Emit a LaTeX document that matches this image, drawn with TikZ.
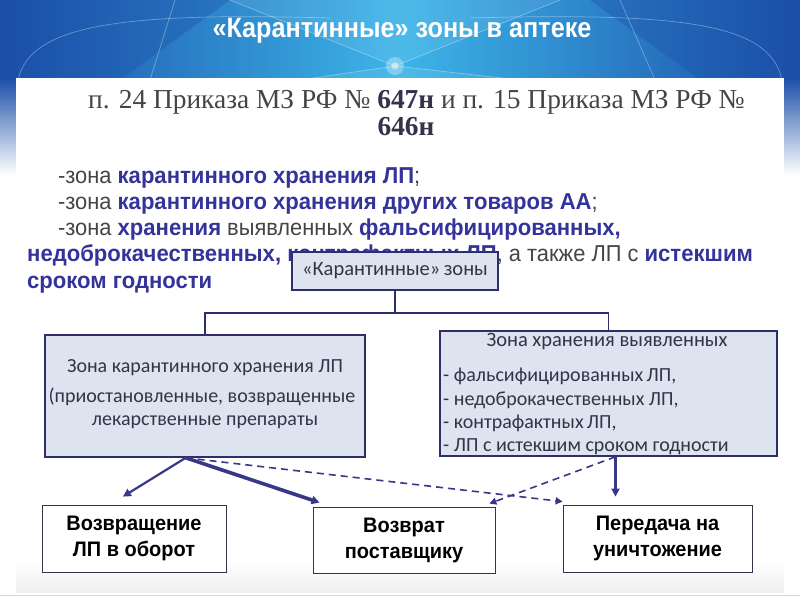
\documentclass[tikz,border=0pt]{standalone}
\usepackage{fontspec}
\setmainfont{Liberation Sans}
\newfontfamily\narrowfont[FakeStretch=0.9]{Liberation Sans}
\newfontfamily\bulreg[FakeStretch=0.95]{Liberation Sans}
\newfontfamily\bulbold[FakeStretch=0.96]{Liberation Sans}
\newfontfamily\endfont[FakeStretch=0.95]{Liberation Sans}
\newfontfamily\serifw{Liberation Serif}
\newfontfamily\calib{Carlito}
\usetikzlibrary{arrows.meta,calc}
\definecolor{navy}{HTML}{333399}
\definecolor{boxline}{HTML}{2E2E6A}
\definecolor{boxfill}{HTML}{DDE3EF}
\definecolor{gtext}{HTML}{454545}
\definecolor{darktext}{HTML}{33334A}
\definecolor{arrowc}{HTML}{38388A}
\definecolor{hdark}{HTML}{1B4FA8}
\definecolor{hlight}{HTML}{3DB5E8}
\tikzset{
  zonebox/.style={draw=boxline, line width=1.6pt, fill=boxfill, inner sep=0pt},
  endbox/.style={draw=darktext, line width=0.8pt, fill=white, inner sep=0pt, align=center,
                 font=\endfont\bfseries\fontsize{21}{26}\selectfont, text=black},
  boxtxt/.style={font=\calib\fontsize{20}{22}\selectfont, text=darktext, inner sep=0pt},
  bul/.style={anchor=base west, inner sep=0pt, font=\bulreg\fontsize{23}{27}\selectfont, text=gtext},
  conn/.style={draw=boxline, line width=1.6pt},
  arr/.style={draw=arrowc, line width=2.4pt, -{Triangle[length=8pt,width=8pt]}},
  darr/.style={draw=arrowc, line width=1.6pt, dash pattern=on 7pt off 5pt, -{Triangle[length=7pt,width=7pt]}},
  deco/.style={draw=white, line width=0.7pt, opacity=0.35},
  facet/.style={fill=white, opacity=0.08},
  dfacet/.style={fill=hdark, opacity=0.35}
}
\newcommand{\nb}[1]{{\bulbold\bfseries\color{navy}#1}}
\begin{document}
\begin{tikzpicture}[x=1pt,y=-1pt]
\useasboundingbox (0,0) rectangle (800,600);
% background
\fill[white] (0,0) rectangle (800,600);
\shade[left color=hdark, right color=hdark, middle color=hlight] (0,0) rectangle (800,80);
\fill[dfacet] (0,0) -- (230,0) -- (120,80) -- (0,80) -- cycle;
\fill[dfacet] (800,0) -- (590,0) -- (700,80) -- (800,80) -- cycle;
\fill[facet] (230,0) -- (395,66) -- (560,0) -- cycle;
\fill[facet] (300,80) -- (395,66) -- (520,80) -- cycle;
\shade[top color=hdark, bottom color=white] (0,78) rectangle (16,175);
\shade[top color=hdark, bottom color=white] (784,78) rectangle (800,175);
% header decoration
\draw[deco] (18,80) .. controls (30,25) and (120,12) .. (330,18);
\draw[deco] (782,80) .. controls (770,25) and (690,12) .. (470,18);
\draw[deco] (175,0) -- (150,80);
\draw[deco] (620,0) -- (655,80);
\draw[deco] (230,0) -- (395,66) -- (560,0);
\draw[deco] (300,80) -- (395,66) -- (520,80);
\fill[white, opacity=0.3] (395,66) circle (9pt);
\fill[white, opacity=0.5] (395,66) circle (3.5pt);
% panel
\fill[white] (16,78) rectangle (784,592);
\shade[top color=white, bottom color=black!6] (16,560) rectangle (784,592);
\draw[hlight!40, line width=1pt] (0,595) -- (800,595);

% title
\node[text=white, font=\narrowfont\bfseries\fontsize{28}{32}\selectfont] (title) at (402,31) {«Карантинные» зоны в аптеке};

% subtitle
\node[anchor=base west, inner sep=0pt, text=gtext, font=\serifw\fontsize{27.4}{31}\selectfont] (sub1) at (88,108)
  {п. 24 Приказа МЗ РФ № {\bfseries\color{darktext}647н} и п. 15 Приказа МЗ РФ №};
\node[anchor=base, inner sep=0pt, text=darktext, font=\serifw\bfseries\fontsize{27.4}{31}\selectfont] (sub2) at (406,135) {646н};

% bullet text
\node[bul] (l1) at (58,183) {-зона \nb{карантинного хранения ЛП};};
\node[bul] (l2) at (58,209) {-зона \nb{карантинного хранения других товаров АА};};
\node[bul] (l3) at (58,235) {-зона \nb{хранения} выявленных \nb{фальсифицированных,}};
\node[bul] (l4) at (27,261) {\nb{недоброкачественных, контрафактных ЛП}, а также ЛП с \nb{истекшим}};
\node[bul] (l5) at (27,288) {\nb{сроком годности}};

% central box
\node[zonebox, minimum width=206pt, minimum height=38pt, font=\calib\fontsize{20.5}{24}\selectfont, text=darktext] (kz) at (395,271) {«Карантинные»\,зоны};

% zone boxes
\node[zonebox, minimum width=320pt, minimum height=122pt] (lz) at (205,396) {};
\node[zonebox, minimum width=337pt, minimum height=125pt] (rz) at (608.5,393.5) {};

\node[boxtxt] (lz1) at (205,368) {Зона карантинного хранения ЛП};
\node[boxtxt] (lz2) at (202,397) {(приостановленные, возвращенные};
\node[boxtxt] (lz3) at (205,422) {лекарственные препараты};

\node[boxtxt, font=\calib\fontsize{20.5}{22}\selectfont] (rz0) at (607,342) {Зона хранения выявленных};
\node[boxtxt, anchor=west] (rz1) at (443,376) {- фальсифицированных\,ЛП,};
\node[boxtxt, anchor=west] (rz2) at (443,400) {- недоброкачественных ЛП,};
\node[boxtxt, anchor=west] (rz3) at (443,423) {- контрафактных\,ЛП,};
\node[boxtxt, anchor=west] (rz4) at (443,447) {- ЛП с истекшим сроком годности};

% connectors from central box
\coordinate (jn) at ($(kz.south)+(0,22)$);
\draw[conn] (kz.south) -- (jn) -| (lz.north);
\draw[conn] (jn) -| (rz.north);

% bottom boxes
\node[endbox, minimum width=184pt, minimum height=67pt] (b1) at (134,538.5) {Возвращение\\ЛП в оборот};
\node[endbox, minimum width=182pt, minimum height=66pt] (b2) at (404,540) {Возврат\\поставщику};
\node[endbox, minimum width=189pt, minimum height=67pt] (b3) at (657.5,538.5) {Передача на\\уничтожение};

% arrows
\coordinate (lzb) at ($(lz.south west)!0.44!(lz.south east)$);
\coordinate (rzb) at ($(rz.south)+(7,0)$);
\draw[arr, line width=2.2pt] (lzb) -- ($(b1.north west)!0.44!(b1.north east)+(0,-8)$);
\draw[arr, line width=3.6pt] (lzb) -- ($(b2.north west)+(7,-4)$);
\draw[darr] (lzb) -- ($(b3.north west)+(0,-3)$);
\draw[darr] (rzb) -- ($(b2.north east)+(-6,-3)$);
\draw[arr, line width=2.6pt] (rzb) -- ($(rzb |- b3.north)+(0,-8)$);
\end{tikzpicture}
\end{document}
